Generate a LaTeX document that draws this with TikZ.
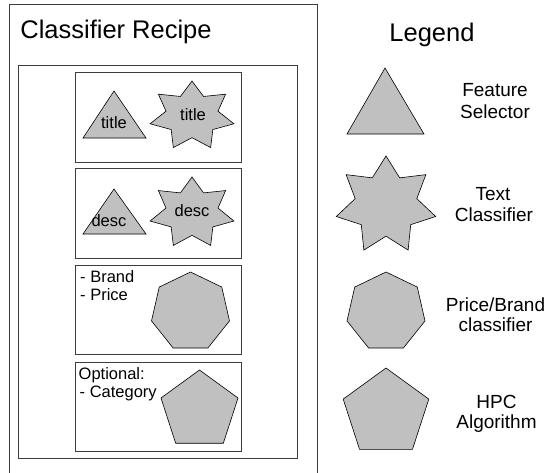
\documentclass[tikz,border=0pt]{standalone}
\usepackage{fontspec}
\setmainfont{Liberation Sans}
\definecolor{shapefill}{RGB}{192,192,192}
\definecolor{boxline}{RGB}{60,60,60}
\newcommand\drawstar[4]{% cx, cy, rx, ry
  \draw[shapestyle] ({#1},{#2-#4}) \foreach \i in {1,...,13}{ -- ({#1+#3*(1-0.38*mod(\i,2))*cos(90+\i*180/7)},{#2-#4*(1-0.38*mod(\i,2))*sin(90+\i*180/7)}) } -- cycle;}
\newcommand\drawpoly[5]{% sides, last index, cx, cy, r
  \draw[shapestyle] ({#3},{#4-#5}) \foreach \i in {1,...,#2}{ -- ({#3+#5*cos(90+\i*360/#1)},{#4-#5*sin(90+\i*360/#1)}) } -- cycle;}
\begin{document}
\begin{tikzpicture}[x=1pt,y=-1pt,
  boxstyle/.style={draw=boxline, line width=0.8pt},
  shapestyle/.style={draw=black, fill=shapefill, line width=0.6pt, line join=miter},
  bigfont/.style={font=\fontsize{25.5}{30}\selectfont, inner sep=0pt},
  lbl/.style={font=\fontsize{16.5}{19}\selectfont, inner sep=0pt},
  leglbl/.style={font=\fontsize{19}{22}\selectfont, inner sep=0pt, anchor=base}]
\useasboundingbox (0,0) rectangle (546,472);
\fill[white] (0,0) rectangle (546,472);
% recipe frame
\draw[boxstyle] (9,4) rectangle (317,475);
\node[bigfont, anchor=base] (recipe) at (116,38.5) {Classifier Recipe};
\node[bigfont, anchor=base] (legend) at (432,41) {Legend};
\draw[boxstyle] (18,65) rectangle (297,458);
% sub boxes
\draw[boxstyle] (75,72) rectangle (241,162);
\draw[boxstyle] (75,168) rectangle (241,258);
\draw[boxstyle] (75,265) rectangle (241,354);
\draw[boxstyle] (75,362) rectangle (241,451);
% box 1
\draw[shapestyle] (114,91) -- (146,138) -- (83,138) -- cycle;
\node[lbl, anchor=base] (t1) at (114,128) {title};
\drawstar{192}{116}{43}{35}
\node[lbl, anchor=base] (s1) at (193,120) {title};
% box 2
\draw[shapestyle] (114,189) -- (146,234) -- (83,234) -- cycle;
\node[lbl, anchor=base] (t2) at (109,226.5) {desc};
\drawstar{192}{213}{43}{36}
\node[lbl, anchor=base] (s2) at (192,216.5) {desc};
% box 3
\node[lbl, anchor=base west] (brand) at (80,282) {- Brand};
\node[lbl, anchor=base west] (price) at (80,300.5) {- Price};
\drawpoly{7}{6}{190.5}{312}{40}
% box 4
\node[lbl, anchor=base west] (opt) at (78.5,379) {Optional:};
\node[lbl, anchor=base west] (cat) at (79.5,397.5) {- Category};
\drawpoly{5}{4}{199.5}{410.5}{40.5}
% legend
\draw[shapestyle] (385,68) -- (424,134) -- (347,134) -- cycle;
\node[leglbl] (l1a) at (495,96.5) {Feature};
\node[leglbl] (l1b) at (495,118) {Selector};
\drawstar{386}{205.5}{51}{49.5}
\node[leglbl] (l2a) at (493,200) {Text};
\node[leglbl] (l2b) at (494,221.5) {Classifier};
\drawpoly{7}{6}{386}{312}{40}
\node[leglbl] (l3a) at (495.5,311.5) {Price/Brand};
\node[leglbl] (l3b) at (495.5,331.5) {classifier};
\drawpoly{5}{4}{386}{413}{45}
\node[leglbl] (l4a) at (496.5,408.3) {HPC};
\node[leglbl] (l4b) at (496.5,428.3) {Algorithm};
\end{tikzpicture}
\end{document}
